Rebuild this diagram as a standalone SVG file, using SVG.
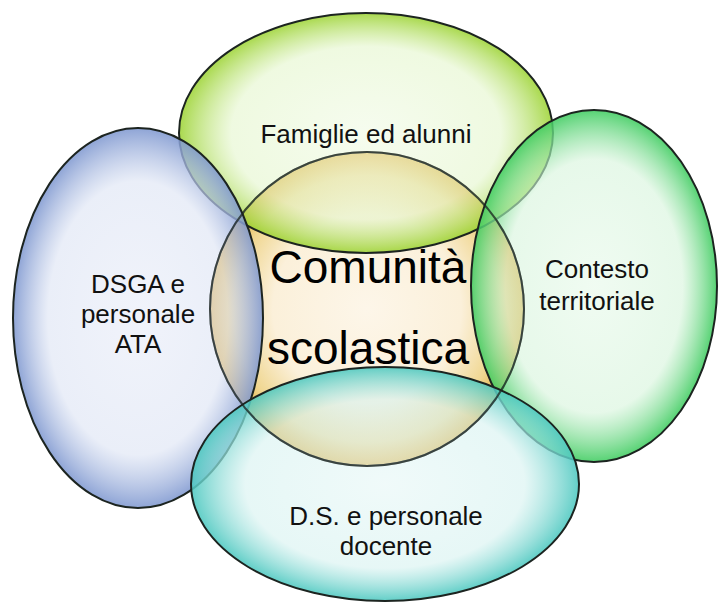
<svg xmlns="http://www.w3.org/2000/svg" width="718" height="603" viewBox="0 0 718 603">
<defs>
<style>
.shape{stroke:#1c2420;stroke-width:2}
.lbl{font-family:"Liberation Sans",Arial,sans-serif;font-size:26px;fill:#111;text-anchor:middle}
.big{font-family:"Liberation Sans",Arial,sans-serif;font-size:46px;fill:#000;text-anchor:middle}
</style>
<radialGradient id="gCore" cx="50%" cy="50%" r="50%">
<stop offset="0" stop-color="#fdf6e9"/>
<stop offset="0.6" stop-color="#fbf0da"/>
<stop offset="0.85" stop-color="#f0d792"/>
<stop offset="1" stop-color="#e2ae3c"/>
</radialGradient>
<radialGradient id="gTop" cx="50%" cy="50%" r="50%">
<stop offset="0" stop-color="#f0fae4" stop-opacity="0.6"/>
<stop offset="0.72" stop-color="#e4f6cc" stop-opacity="0.6"/>
<stop offset="1" stop-color="#9ad22e" stop-opacity="0.85"/>
</radialGradient>
<radialGradient id="gLeft" cx="50%" cy="50%" r="50%">
<stop offset="0" stop-color="#e8ecf8" stop-opacity="0.62"/>
<stop offset="0.72" stop-color="#dde4f4" stop-opacity="0.62"/>
<stop offset="1" stop-color="#7f98d0" stop-opacity="0.88"/>
</radialGradient>
<radialGradient id="gRight" cx="50%" cy="50%" r="50%">
<stop offset="0" stop-color="#e6f9e9" stop-opacity="0.6"/>
<stop offset="0.72" stop-color="#d6f4db" stop-opacity="0.6"/>
<stop offset="1" stop-color="#3fcc60" stop-opacity="0.88"/>
</radialGradient>
<radialGradient id="gBottom" cx="50%" cy="50%" r="50%">
<stop offset="0" stop-color="#e6f7f6" stop-opacity="0.6"/>
<stop offset="0.72" stop-color="#d6f2f0" stop-opacity="0.6"/>
<stop offset="1" stop-color="#4cc8c0" stop-opacity="0.88"/>
</radialGradient>
</defs>
<rect width="718" height="603" fill="#ffffff"/>
<g id="core">
<circle class="shape" cx="367" cy="309" r="157" fill="url(#gCore)"/>
</g>
<g id="top">
<ellipse class="shape" cx="366" cy="133" rx="187" ry="120" fill="url(#gTop)"/>
</g>
<g id="left">
<ellipse class="shape" cx="138" cy="318" rx="125" ry="190" fill="url(#gLeft)"/>
</g>
<g id="right">
<ellipse class="shape" cx="594" cy="286" rx="123" ry="176" fill="url(#gRight)"/>
</g>
<g id="bottom">
<ellipse class="shape" cx="385" cy="484" rx="194" ry="117" fill="url(#gBottom)"/>
</g>
<g id="core-outline">
<circle cx="367" cy="309" r="157" fill="none" stroke="#1c2420" stroke-width="2" stroke-opacity="0.75"/>
</g>
<g id="labels">
<text class="big" x="368" y="283">Comunità</text>
<text class="big" x="368" y="364">scolastica</text>
<text class="lbl" x="366" y="143">Famiglie ed alunni</text>
<text class="lbl" x="138" y="293">DSGA e</text>
<text class="lbl" x="138" y="323">personale</text>
<text class="lbl" x="138" y="353">ATA</text>
<text class="lbl" x="597" y="278">Contesto</text>
<text class="lbl" x="597" y="310">territoriale</text>
<text class="lbl" x="386" y="525">D.S. e personale</text>
<text class="lbl" x="386" y="555">docente</text>
</g>
</svg>
